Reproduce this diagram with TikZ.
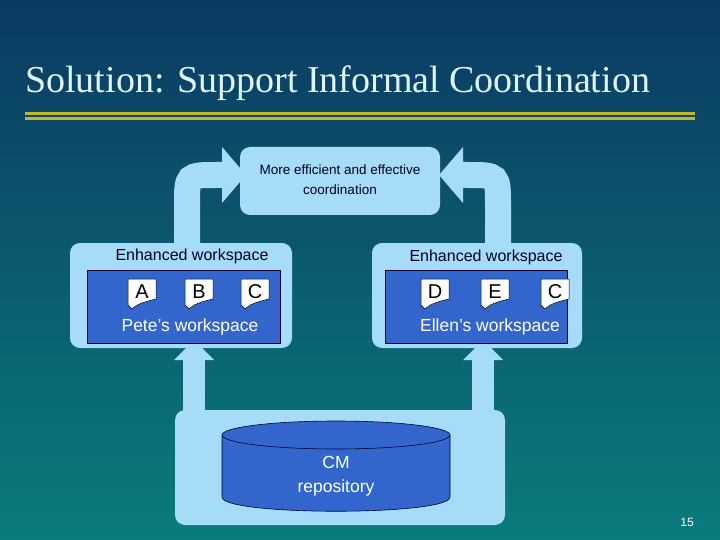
\documentclass[tikz,border=0pt]{standalone}
\usepackage{fontspec}
\setmainfont{Liberation Sans}
\newfontfamily\ttlfont{Liberation Serif}
\begin{document}
\begin{tikzpicture}[x=1pt,y=-1pt,
  lb/.style={fill=lblue,draw=none,rounded corners=10pt},
  inner/.style={fill=iblue,draw=black!80!blue,line width=0.8pt},
  lbl/.style={font=\fontsize{16}{19}\selectfont,text=black!85!blue},
  doc/.style={fill=white,draw=black,line width=0.5pt}]
\definecolor{lblue}{HTML}{A6DCF8}
\definecolor{iblue}{HTML}{3366CC}
\definecolor{topc}{HTML}{0B3A62}
\definecolor{botc}{HTML}{0A7C7C}
\useasboundingbox (0,0) rectangle (720,540);
\shade[top color=topc,bottom color=botc] (0,0) rectangle (720,540);
\node[anchor=west,inner sep=0pt,text=white!88!cyan,font=\ttlfont\fontsize{38}{42}\selectfont] (title) at (25,83) {Solution: Support Informal Coordination};
\fill[olive!70!yellow!80!white] (25,112) rectangle (695,115);
\fill[olive!70!yellow!80!white] (25,117) rectangle (695,120);
% curved arrows
\draw[lblue,line width=26pt] (187,250) -- (187,205) .. controls (187,175) .. (217,175) -- (226,175);
\fill[lblue] (222,147) -- (246,175) -- (222,203) -- cycle;
\draw[lblue,line width=26pt] (498,250) -- (498,205) .. controls (498,175) .. (468,175) -- (459,175);
\fill[lblue] (463,147) -- (439,175) -- (463,203) -- cycle;
% top box
\fill[lb] (240,147) rectangle (440,215);
\node[align=center,font=\fontsize{13.5}{20}\selectfont,text=black!85!blue] (goal) at (340,180) {More efficient and effective\\coordination};
% bottom box and up arrows
\fill[lb] (175,410) rectangle (505,525);
\fill[lblue] (183,420) rectangle (205,360);
\fill[lblue] (174,360) -- (194,340) -- (214,360) -- cycle;
\fill[lblue] (472,420) rectangle (494,360);
\fill[lblue] (463,360) -- (483,340) -- (503,360) -- cycle;
% workspaces
\fill[lb] (70,243) rectangle (292,348);
\node[lbl] (le) at (192,256) {Enhanced workspace};
\draw[inner] (87,270) rectangle (280,343);
\node[font=\fontsize{17.5}{20}\selectfont,text=white] (pw) at (190,327) {Pete’s workspace};
\fill[lb] (372,243) rectangle (582,348);
\node[lbl] (re) at (486,257) {Enhanced workspace};
\draw[inner] (385,270) rectangle (567,343);
\node[font=\fontsize{17.5}{20}\selectfont,text=white] (ew) at (490,327) {Ellen’s workspace};
\foreach \x/\t in {128/A,185/B,241/C,421/D,481/E,541/C}{
  \draw[doc] (\x,279) -- (\x+28,279) -- (\x+28,299) .. controls (\x+20,301) and (\x+10,303) .. (\x+4,309) -- (\x,305) -- cycle;
  \node[font=\fontsize{20}{22}\selectfont] (d\t\x) at (\x+14,292) {\t};
}
% cylinder
\draw[inner,line width=0.6pt] (222,435) -- (222,497) .. controls (222,516) and (450,516) .. (450,497) -- (450,435);
\draw[inner,line width=0.6pt] (336,435) ellipse[x radius=114,y radius=14];
\node[align=center,font=\fontsize{17.5}{24}\selectfont,text=white] (cm) at (336,476) {CM\\repository};
\node[font=\fontsize{12}{14}\selectfont,text=white] (pg) at (687,522) {15};
\end{tikzpicture}
\end{document}
